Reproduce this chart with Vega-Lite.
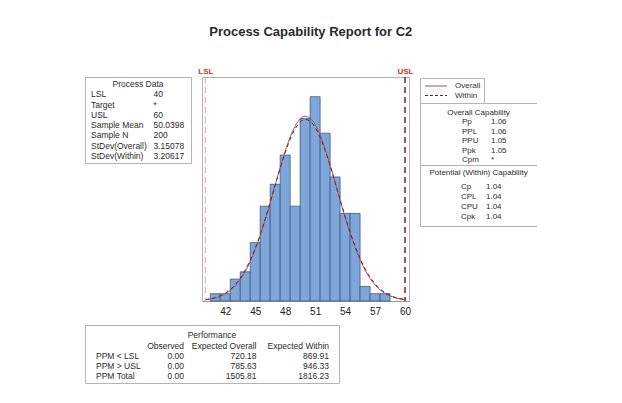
{
  "$schema": "https://vega.github.io/schema/vega-lite/v6.json",
  "background": "white",
  "padding": {"left": 84, "top": 25, "right": 0, "bottom": 0},
  "title": {"text": "Process Capability Report for C2", "anchor": "middle", "fontSize": 13, "fontWeight": "bold", "color": "#2a2a2a", "offset": 28},
  "spacing": 7,
  "resolve": {"scale": {"color": "independent", "strokeDash": "independent"}, "legend": {"color": "independent", "strokeDash": "independent"}},
  "vconcat": [
    {
      "hconcat": [
        {
          "width": 106,
          "height": 86,
          "data": {"values": [
            {"r": 0, "c": "h", "t": "Process Data"},
            {"r": 1, "c": "k", "t": "LSL"}, {"r": 1, "c": "v", "t": "40"},
            {"r": 2, "c": "k", "t": "Target"}, {"r": 2, "c": "v", "t": "*"},
            {"r": 3, "c": "k", "t": "USL"}, {"r": 3, "c": "v", "t": "60"},
            {"r": 4, "c": "k", "t": "Sample Mean"}, {"r": 4, "c": "v", "t": "50.0398"},
            {"r": 5, "c": "k", "t": "Sample N"}, {"r": 5, "c": "v", "t": "200"},
            {"r": 6, "c": "k", "t": "StDev(Overall)"}, {"r": 6, "c": "v", "t": "3.15078"},
            {"r": 7, "c": "k", "t": "StDev(Within)"}, {"r": 7, "c": "v", "t": "3.20617"}
          ]},
          "layer": [
            {
              "transform": [{"filter": "datum.c == 'h'"}],
              "mark": {"type": "text", "align": "center", "baseline": "middle", "fontSize": 8.5, "color": "#2b2b2b"},
              "encoding": {
                "y": {"field": "r", "type": "quantitative", "scale": {"domain": [-0.681, 7.685], "reverse": true, "nice": false, "zero": false}, "axis": null},
                "text": {"field": "t"}
              }
            },
            {
              "transform": [{"filter": "datum.c != 'h'"}],
              "mark": {"type": "text", "align": "left", "baseline": "middle", "fontSize": 8.5, "color": "#2b2b2b"},
              "encoding": {
                "x": {"field": "c", "type": "nominal", "scale": {"domain": ["k", "v"], "range": [6, 68.5], "padding": 0}, "axis": null},
                "y": {"field": "r", "type": "quantitative", "scale": {"domain": [-0.681, 7.685], "reverse": true, "nice": false, "zero": false}, "axis": null},
                "text": {"field": "t"}
              }
            }
          ]
        },
        {
          "width": 207,
          "height": 224,
          "layer": [
            {
              "data": {"values": [
                {"lo": 40.5, "hi": 41.5, "n": 1}, {"lo": 41.5, "hi": 42.5, "n": 1},
                {"lo": 42.5, "hi": 43.5, "n": 3}, {"lo": 43.5, "hi": 44.5, "n": 4},
                {"lo": 44.5, "hi": 45.5, "n": 8}, {"lo": 45.5, "hi": 46.5, "n": 13},
                {"lo": 46.5, "hi": 47.5, "n": 16}, {"lo": 47.5, "hi": 48.5, "n": 20},
                {"lo": 48.5, "hi": 49.5, "n": 13}, {"lo": 49.5, "hi": 50.5, "n": 25},
                {"lo": 50.5, "hi": 51.5, "n": 28}, {"lo": 51.5, "hi": 52.5, "n": 23},
                {"lo": 52.5, "hi": 53.5, "n": 17}, {"lo": 53.5, "hi": 54.5, "n": 12},
                {"lo": 54.5, "hi": 55.5, "n": 12}, {"lo": 55.5, "hi": 56.5, "n": 2},
                {"lo": 56.5, "hi": 57.5, "n": 1}, {"lo": 57.5, "hi": 58.5, "n": 1}
              ]},
              "mark": {"type": "bar", "fill": "#7ea6d9", "stroke": "#3c5a86", "strokeWidth": 0.8},
              "encoding": {
                "x": {"field": "lo", "type": "quantitative", "scale": {"domain": [39.67, 60.4], "nice": false, "zero": false},
                  "axis": {"values": [42, 45, 48, 51, 54, 57, 60], "title": null, "grid": false, "ticks": false, "labelPadding": 5, "labelFontSize": 10, "labelColor": "#222", "labelFlush": false, "domain": true, "domainColor": "#9a9a9a"}},
                "x2": {"field": "hi"},
                "y": {"field": "n", "type": "quantitative", "scale": {"domain": [0, 30.7], "nice": false}, "axis": null},
                "y2": {"datum": 0}
              }
            },
            {
              "data": {"name": "curve"},
              "mark": {"type": "line", "color": "#b05656", "strokeWidth": 1, "interpolate": "monotone"},
              "encoding": {
                "x": {"field": "x", "type": "quantitative", "scale": {"domain": [39.67, 60.4], "nice": false, "zero": false}, "axis": null},
                "y": {"field": "o", "type": "quantitative", "scale": {"domain": [0, 30.7], "nice": false}, "axis": null}
              }
            },
            {
              "data": {"name": "curve"},
              "mark": {"type": "line", "color": "#6b2424", "strokeWidth": 1, "strokeDash": [4, 3], "interpolate": "monotone"},
              "encoding": {
                "x": {"field": "x", "type": "quantitative", "scale": {"domain": [39.67, 60.4], "nice": false, "zero": false}, "axis": null},
                "y": {"field": "w", "type": "quantitative", "scale": {"domain": [0, 30.7], "nice": false}, "axis": null}
              }
            },
            {
              "data": {"values": [{"lim": "LSL", "v": 40}]},
              "mark": {"type": "rule", "color": "#e3a0a0", "strokeWidth": 1, "strokeDash": [6, 4]},
              "encoding": {
                "x": {"field": "v", "type": "quantitative", "scale": {"domain": [39.67, 60.4], "nice": false, "zero": false},
                  "axis": {"orient": "top", "values": [40, 60], "labelExpr": "datum.value == 40 ? 'LSL' : 'USL'", "labelColor": "#c0392b", "labelFontSize": 8, "labelFontWeight": "bold", "labelPadding": 2, "labelFlush": false, "ticks": false, "domain": false, "grid": false, "title": null}}
              }
            },
            {
              "data": {"values": [{"lim": "USL", "v": 60}]},
              "mark": {"type": "rule", "color": "#8e1b1b", "strokeWidth": 1.5, "strokeDash": [6, 4]},
              "encoding": {
                "x": {"field": "v", "type": "quantitative", "scale": {"domain": [39.67, 60.4], "nice": false, "zero": false}, "axis": null}
              }
            }
          ],
          "resolve": {"axis": {"x": "independent"}}
        },
        {
          "width": 117,
          "height": 149,
          "view": {"stroke": null},
          "data": {"values": [
            {"r": 0, "s": "O", "c": "h", "t": "Overall Capability"},
            {"r": 1, "s": "O", "c": "k", "t": "Pp"}, {"r": 1, "s": "O", "c": "v", "t": "1.06"},
            {"r": 2, "s": "O", "c": "k", "t": "PPL"}, {"r": 2, "s": "O", "c": "v", "t": "1.06"},
            {"r": 3, "s": "O", "c": "k", "t": "PPU"}, {"r": 3, "s": "O", "c": "v", "t": "1.05"},
            {"r": 4, "s": "O", "c": "k", "t": "Ppk"}, {"r": 4, "s": "O", "c": "v", "t": "1.05"},
            {"r": 5, "s": "O", "c": "k", "t": "Cpm"}, {"r": 5, "s": "O", "c": "v", "t": "*"},
            {"r": 6, "s": "P", "c": "h", "t": "Potential (Within) Capability"},
            {"r": 7, "s": "P", "c": "k", "t": "Cp"}, {"r": 7, "s": "P", "c": "v", "t": "1.04"},
            {"r": 8, "s": "P", "c": "k", "t": "CPL"}, {"r": 8, "s": "P", "c": "v", "t": "1.04"},
            {"r": 9, "s": "P", "c": "k", "t": "CPU"}, {"r": 9, "s": "P", "c": "v", "t": "1.04"},
            {"r": 10, "s": "P", "c": "k", "t": "Cpk"}, {"r": 10, "s": "P", "c": "v", "t": "1.04"}
          ]},
          "layer": [
            {
              "data": {"values": [{"series": "Overall"}, {"series": "Within"}]},
              "mark": {"type": "line"},
              "encoding": {
                "color": {"field": "series", "type": "nominal", "scale": {"domain": ["Overall", "Within"], "range": ["#a05050", "#303030"]},
                  "legend": {"title": null, "orient": "none", "legendX": 0, "legendY": 1, "padding": 3, "strokeColor": "#b4b4b4", "fillColor": "white", "symbolType": "M-0.75,0H4.75", "symbolSize": 64, "symbolStrokeWidth": 1.2, "labelFontSize": 8, "labelOffset": 22, "labelColor": "#333", "rowPadding": 0.5}},
                "strokeDash": {"field": "series", "type": "nominal", "scale": {"domain": ["Overall", "Within"], "range": [[1, 0], [3, 2]]},
                  "legend": {"title": null, "orient": "none", "legendX": 0, "legendY": 1, "padding": 3, "strokeColor": "#b4b4b4", "fillColor": "white", "symbolType": "M-0.75,0H4.75", "symbolSize": 64, "symbolStrokeWidth": 1.2, "labelFontSize": 8, "labelOffset": 22, "labelColor": "#333", "rowPadding": 0.5}}
              }
            },
            {
              "transform": [{"filter": "datum.c == 'h'"}],
              "mark": {"type": "text", "align": "center", "baseline": "middle", "fontSize": 8, "color": "#2b2b2b"},
              "encoding": {
                "y": {"field": "r", "type": "quantitative", "scale": {"domain": [-1, 0, 5, 6, 7, 10, 11], "range": [26, 35.7, 83.3, 95.7, 110, 139.7, 149], "nice": false, "zero": false},
                  "axis": {"values": [-1, 5.38, 11], "grid": true, "gridColor": "#b4b4b4", "gridOpacity": 1, "labels": false, "ticks": false, "domain": true, "domainColor": "#b4b4b4", "title": null}},
                "text": {"field": "t"}
              }
            },
            {
              "transform": [{"filter": "datum.s == 'O' && datum.c != 'h'"}],
              "mark": {"type": "text", "align": "left", "baseline": "middle", "fontSize": 8, "color": "#2b2b2b"},
              "encoding": {
                "x": {"field": "c", "type": "nominal", "scale": {"domain": ["k", "v"], "range": [42, 71], "padding": 0}, "axis": null},
                "y": {"field": "r", "type": "quantitative", "scale": {"domain": [-1, 0, 5, 6, 7, 10, 11], "range": [26, 35.7, 83.3, 95.7, 110, 139.7, 149], "nice": false, "zero": false}, "axis": null},
                "text": {"field": "t"}
              }
            },
            {
              "transform": [{"filter": "datum.s == 'P' && datum.c != 'h'"}],
              "mark": {"type": "text", "align": "left", "baseline": "middle", "fontSize": 8, "color": "#2b2b2b"},
              "encoding": {
                "x": {"field": "c", "type": "nominal", "scale": {"domain": ["k", "v"], "range": [41, 66], "padding": 0}, "axis": null},
                "y": {"field": "r", "type": "quantitative", "scale": {"domain": [-1, 0, 5, 6, 7, 10, 11], "range": [26, 35.7, 83.3, 95.7, 110, 139.7, 149], "nice": false, "zero": false},
                  "axis": {"orient": "right", "grid": false, "labels": false, "ticks": false, "domain": true, "domainColor": "#b4b4b4", "title": null}},
                "text": {"field": "t"}
              }
            }
          ],
          "resolve": {"scale": {"x": "independent"}, "axis": {"y": "independent"}}
        }
      ],
      "spacing": 11,
      "bounds": "flush",
      "resolve": {"scale": {"color": "independent", "strokeDash": "independent"}, "legend": {"color": "independent", "strokeDash": "independent"}}
    },
    {
      "width": 254,
      "height": 58,
      "data": {"values": [
        {"r": 0, "c": "h", "t": "Performance"},
        {"r": 1, "c": "obs", "t": "Observed"}, {"r": 1, "c": "eo", "t": "Expected Overall"}, {"r": 1, "c": "ew", "t": "Expected Within"},
        {"r": 2, "c": "k", "t": "PPM < LSL"}, {"r": 2, "c": "obs", "t": "0.00"}, {"r": 2, "c": "eo", "t": "720.18"}, {"r": 2, "c": "ew", "t": "869.91"},
        {"r": 3, "c": "k", "t": "PPM > USL"}, {"r": 3, "c": "obs", "t": "0.00"}, {"r": 3, "c": "eo", "t": "785.63"}, {"r": 3, "c": "ew", "t": "946.33"},
        {"r": 4, "c": "k", "t": "PPM Total"}, {"r": 4, "c": "obs", "t": "0.00"}, {"r": 4, "c": "eo", "t": "1505.81"}, {"r": 4, "c": "ew", "t": "1816.23"}
      ]},
      "layer": [
        {
          "transform": [{"filter": "datum.c == 'h'"}],
          "mark": {"type": "text", "align": "center", "baseline": "middle", "fontSize": 8.5, "color": "#2b2b2b"},
          "encoding": {
            "y": {"field": "r", "type": "quantitative", "scale": {"domain": [-1.005, 4.654], "reverse": true, "nice": false, "zero": false}, "axis": null},
            "text": {"field": "t"}
          }
        },
        {
          "transform": [{"filter": "datum.c == 'k'"}],
          "mark": {"type": "text", "align": "left", "baseline": "middle", "fontSize": 8.5, "color": "#2b2b2b"},
          "encoding": {
            "x": {"field": "c", "type": "nominal", "scale": {"domain": ["k"], "range": [11, 11], "padding": 0}, "axis": null},
            "y": {"field": "r", "type": "quantitative", "scale": {"domain": [-1.005, 4.654], "reverse": true, "nice": false, "zero": false}, "axis": null},
            "text": {"field": "t"}
          }
        },
        {
          "transform": [{"filter": "datum.c != 'h' && datum.c != 'k'"}],
          "mark": {"type": "text", "align": "right", "baseline": "middle", "fontSize": 8.5, "color": "#2b2b2b"},
          "encoding": {
            "x": {"field": "c", "type": "nominal", "scale": {"domain": ["obs", "eo", "ew"], "range": [99, 244], "padding": 0}, "axis": null},
            "y": {"field": "r", "type": "quantitative", "scale": {"domain": [-1.005, 4.654], "reverse": true, "nice": false, "zero": false}, "axis": null},
            "text": {"field": "t"}
          }
        }
      ],
      "resolve": {"scale": {"x": "independent"}}
    }
  ],
  "datasets": {
    "curve": [
      {"x": 40, "o": 0.158, "w": 0.185}, {"x": 40.5, "o": 0.259, "w": 0.298},
      {"x": 41, "o": 0.413, "w": 0.468}, {"x": 41.5, "o": 0.643, "w": 0.717},
      {"x": 42, "o": 0.977, "w": 1.073}, {"x": 42.5, "o": 1.446, "w": 1.567},
      {"x": 43, "o": 2.087, "w": 2.234}, {"x": 43.5, "o": 2.938, "w": 3.108},
      {"x": 44, "o": 4.032, "w": 4.22}, {"x": 44.5, "o": 5.399, "w": 5.593},
      {"x": 45, "o": 7.046, "w": 7.234}, {"x": 45.5, "o": 8.969, "w": 9.132},
      {"x": 46, "o": 11.132, "w": 11.252}, {"x": 46.5, "o": 13.473, "w": 13.529},
      {"x": 47, "o": 15.902, "w": 15.876}, {"x": 47.5, "o": 18.3, "w": 18.185},
      {"x": 48, "o": 20.536, "w": 20.326}, {"x": 48.5, "o": 22.474, "w": 22.175},
      {"x": 49, "o": 23.982, "w": 23.611}, {"x": 49.5, "o": 24.955, "w": 24.536},
      {"x": 50, "o": 25.322, "w": 24.884}, {"x": 50.5, "o": 25.055, "w": 24.631},
      {"x": 51, "o": 24.175, "w": 23.795}, {"x": 51.5, "o": 22.746, "w": 22.434},
      {"x": 52, "o": 20.868, "w": 20.644}, {"x": 52.5, "o": 18.671, "w": 18.54},
      {"x": 53, "o": 16.288, "w": 16.25}, {"x": 53.5, "o": 13.856, "w": 13.901},
      {"x": 54, "o": 11.494, "w": 11.605}, {"x": 54.5, "o": 9.298, "w": 9.457},
      {"x": 55, "o": 7.334, "w": 7.52}, {"x": 55.5, "o": 5.642, "w": 5.837},
      {"x": 56, "o": 4.231, "w": 4.421}, {"x": 56.5, "o": 3.094, "w": 3.269},
      {"x": 57, "o": 2.208, "w": 2.359}, {"x": 57.5, "o": 1.536, "w": 1.661},
      {"x": 58, "o": 1.041, "w": 1.141}, {"x": 58.5, "o": 0.689, "w": 0.766},
      {"x": 59, "o": 0.444, "w": 0.501}, {"x": 59.5, "o": 0.279, "w": 0.32},
      {"x": 60, "o": 0.171, "w": 0.2}
    ]
  },
  "config": {
    "font": "Liberation Sans",
    "view": {"stroke": "#b4b4b4"},
    "text": {"font": "Liberation Sans"},
    "axis": {"labelFont": "Liberation Sans"},
    "legend": {"labelFont": "Liberation Sans"},
    "title": {"font": "Liberation Sans"}
  }
}
